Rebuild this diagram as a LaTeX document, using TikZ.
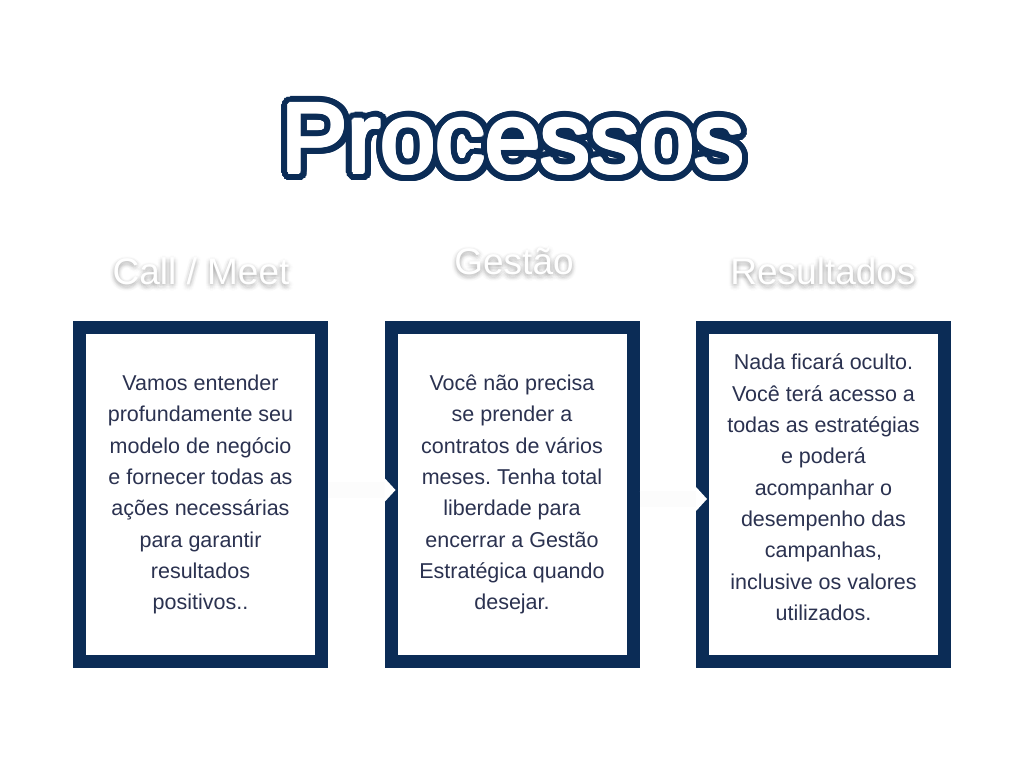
\documentclass[tikz,border=0pt]{standalone}
\usepackage{fontspec}
\setmainfont{Liberation Sans}
\usetikzlibrary{arrows.meta}
\definecolor{navy}{HTML}{0B2C56}
\definecolor{bodytext}{HTML}{2B3250}
\frenchspacing
\begin{document}
\begin{tikzpicture}[x=1pt,y=1pt,
  box/.style={draw=navy, line width=13pt, fill=white, minimum width=242pt, minimum height=334pt,
    outer sep=0pt, inner sep=0pt, align=center, text=bodytext,
    font=\fontsize{21.5}{31.3}\selectfont},
  heading/.style={anchor=base, inner sep=0pt, font=\fontsize{37}{44}\selectfont, text=white},
  glow/.style={heading, text=black, text opacity=0.012},
  titletext/.style={anchor=base, inner sep=0pt, font=\fontsize{99}{110}\selectfont},
  flow/.style={line width=16pt, draw=black!1,
    -{Triangle[length=11pt,width=24pt,line width=0pt,color=white,fill=white]}},
]
\useasboundingbox (0,0) rectangle (1024,759);
\fill[white] (0,0) rectangle (1024,759);

% title with navy outline
\foreach \a in {0,8,...,352}
  \node[titletext, text=navy] at ([shift={(\a:8)}]513,586) {Processos};
\foreach \a in {0,30,...,330}
  \node[titletext, text=white] at ([shift={(\a:2)}]513,586) {Processos};
\node[titletext, text=white] (title) at (513,586) {Processos};

% headings with soft shadow
\foreach \a in {0,30,...,330}
  \foreach \r in {1.5,3,4.5} {
    \node[glow] at ([shift={(\a:\r)}]201,472) {Call / Meet};
    \node[glow] at ([shift={(\a:\r)}]514,482) {Gestão};
    \node[glow] at ([shift={(\a:\r)}]823,472) {Resultados};
  }
\node[heading] (h1) at (201,474) {Call / Meet};
\node[heading] (h2) at (514,484) {Gestão};
\node[heading] (h3) at (823,474) {Resultados};

% boxes
\node[box] (b1) at (200.5,264.5) {Vamos entender\\profundamente seu\\modelo de negócio\\e fornecer todas as\\ações necessárias\\para garantir\\resultados\\positivos..};
\node[box] (b2) at (512,264.5) {Você não precisa\\se prender a\\contratos de vários\\meses. Tenha total\\liberdade para\\encerrar a Gestão\\Estratégica quando\\desejar.};
\node[box] (b3) at (823.5,264.5) {Nada ficará oculto.\\Você terá acesso a\\todas as estratégias\\e poderá\\acompanhar o\\desempenho das\\campanhas,\\inclusive os valores\\utilizados.\rule[-14.5pt]{0pt}{14.5pt}};

% faint connectors
\draw[flow] ([xshift=6.5pt,yshift=4.5pt]b1.east) -- ([xshift=4.5pt,yshift=4.5pt]b2.west);
\draw[flow] ([xshift=6.5pt,yshift=-4.5pt]b2.east) -- ([xshift=4.5pt,yshift=-4.5pt]b3.west);
\end{tikzpicture}
\end{document}
